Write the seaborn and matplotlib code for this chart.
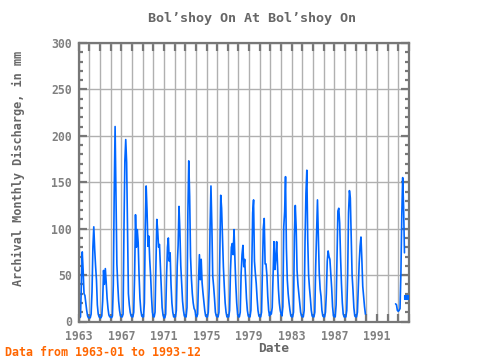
import numpy as np
import pandas as pd
import matplotlib
matplotlib.use("Agg")
import matplotlib.pyplot as plt
import seaborn as sns
from matplotlib.ticker import MultipleLocator, FixedLocator

# ---- data (monthly discharge, mm), Jan..Dec per year ----
y1963 = [4, 4, 5, 40, 75, 55, 30, 28, 20, 12, 6, 4]
y1964 = [4, 4, 8, 32, 80, 102, 78, 60, 45, 18, 8, 5]
y1965 = [4, 4, 6, 22, 55, 40, 57, 42, 25, 14, 7, 5]
y1966 = [5, 4, 6, 40, 138, 210, 138, 62, 40, 22, 12, 6]
y1967 = [5, 5, 8, 100, 173, 196, 171, 100, 30, 18, 10, 6]
y1968 = [5, 5, 10, 50, 115, 80, 99, 85, 50, 25, 12, 6]
y1969 = [5, 5, 20, 102, 146, 119, 81, 92, 67, 50, 27, 10]
y1970 = [5, 5, 10, 60, 110, 98, 80, 83, 60, 35, 15, 7]
y1971 = [4, 4, 8, 50, 80, 90, 65, 74, 40, 20, 10, 5]
y1972 = [5, 5, 12, 60, 82, 124, 97, 60, 40, 22, 12, 6]
y1973 = [5, 5, 15, 117, 173, 135, 70, 46, 30, 20, 14, 12]
y1974 = [6, 5, 8, 45, 72, 45, 67, 42, 31, 22, 12, 6]
y1975 = [5, 5, 10, 36, 101, 146, 104, 49, 38, 25, 10, 6]
y1976 = [5, 5, 10, 77, 136, 122, 92, 59, 38, 20, 10, 5]
y1977 = [5, 5, 12, 55, 80, 84, 72, 99, 67, 40, 20, 8]
y1978 = [5, 5, 10, 52, 72, 82, 59, 67, 45, 25, 12, 6]
y1979 = [5, 5, 12, 58, 117, 131, 65, 52, 41, 25, 12, 6]
y1980 = [5, 5, 10, 55, 101, 111, 62, 62, 50, 27, 12, 6]
y1981 = [10, 8, 15, 52, 86, 56, 67, 86, 59, 35, 20, 12]
y1982 = [8, 6, 16, 102, 118, 156, 79, 45, 30, 20, 12, 6]
y1983 = [5, 5, 10, 92, 125, 101, 55, 40, 30, 20, 10, 6]
y1984 = [5, 5, 12, 88, 138, 163, 90, 50, 36, 25, 12, 6]
y1985 = [5, 5, 10, 60, 97, 131, 92, 52, 35, 27, 12, 6]
y1986 = [5, 5, 10, 30, 65, 76, 70, 67, 52, 36, 16, 6]
y1987 = [5, 5, 18, 67, 119, 122, 106, 70, 41, 20, 8, 5]
y1988 = [5, 5, 12, 50, 117, 141, 133, 92, 50, 34, 15, 6]
y1989 = [5, 5, 10, 38, 63, 81, 91, 67, 38, 27, 16, 8]
y1990 = [np.nan] * 12
y1991 = [np.nan] * 12
y1992 = [np.nan] * 9 + [19, 18, 12]
y1993 = [11, 12, 14, 52, 115, 155, 124, 74, np.nan, 26, np.nan, np.nan]

years = list(range(1963, 1994))
yearly = [y1963, y1964, y1965, y1966, y1967, y1968, y1969, y1970, y1971, y1972,
          y1973, y1974, y1975, y1976, y1977, y1978, y1979, y1980, y1981, y1982,
          y1983, y1984, y1985, y1986, y1987, y1988, y1989, y1990, y1991, y1992,
          y1993]

x_ticks_major = list(range(1963, 1995))
x_tick_labels = [1963, 1967, 1971, 1975, 1979, 1983, 1987, 1991]

title = "Bol\u2019shoy On At Bol\u2019shoy On"
ylabel = "Archival Monthly Discharge, in mm"
xlabel = "Date"
note = "Data from 1963-01 to 1993-12"

# ---- build frame ----
rows = []
for yr, vals in zip(years, yearly):
    for m, v in enumerate(vals):
        rows.append((yr + m / 12.0, v))
df = pd.DataFrame(rows, columns=["t", "q"])
valid = df["q"].notna()
df["seg"] = (valid != valid.shift()).cumsum()
df = df[valid]

sns.set_theme(style="white")
mono = "DejaVu Sans Mono"
plt.rcParams["font.family"] = [mono, "DejaVu Sans"]

fig = plt.figure(figsize=(4.8, 3.6), dpi=100)
ax = fig.add_axes([78.7 / 480, 1 - 321.5 / 360, (408.9 - 78.7) / 480, (321.5 - 43) / 360])

blue = "#0066ff"
for _, g in df.groupby("seg"):
    if len(g) > 1:
        sns.lineplot(data=g, x="t", y="q", ax=ax, color=blue, lw=1.2,
                     estimator=None, legend=False)
    else:
        sns.scatterplot(data=g, x="t", y="q", ax=ax, color=blue, s=9,
                        marker="s", edgecolor=blue, linewidth=0.8,
                        legend=False, clip_on=False, zorder=5)

ax.set_xlim(1963, 1994)
ax.set_ylim(0, 300)

grey = "#777777"
ax.xaxis.set_major_locator(FixedLocator(x_ticks_major))
ax.set_xticklabels([str(t) if t in x_tick_labels else "" for t in x_ticks_major])
ax.yaxis.set_major_locator(MultipleLocator(50))
ax.yaxis.set_minor_locator(MultipleLocator(10))
ax.grid(True, which="major", color="#b0b0b0", lw=1.0)
ax.set_axisbelow(True)
ax.tick_params(axis="both", which="both", direction="in", colors=grey,
               top=True, right=True, bottom=True, left=True, width=1.6,
               labelsize=8.3, labelcolor="#808080")
ax.tick_params(axis="x", which="major", length=6, pad=6)
ax.tick_params(axis="y", which="major", length=6, pad=5)
ax.tick_params(axis="y", which="minor", length=3)
for lab in ax.get_xticklabels() + ax.get_yticklabels():
    lab.set_fontweight("bold")
for sp in ax.spines.values():
    sp.set_color(grey)
    sp.set_linewidth(1.6)
ax.set_xlabel("")
ax.set_ylabel("")

fig.text(252 / 480, 1 - 18.3 / 360, title, ha="center", va="center",
         fontsize=9.6, fontweight="bold", color="#666666")
fig.text(274 / 480, 1 - 348 / 360, xlabel, ha="center", va="center",
         fontsize=9.3, fontweight="bold", color="#666666")
fig.text(18 / 480, 1 - 168.5 / 360, ylabel, ha="center", va="center",
         rotation=90, fontsize=8.6, fontweight="bold", color="#666666")
fig.text(5 / 480, 1 - 352.3 / 360, note, ha="left", va="center",
         fontsize=8.4, fontweight="bold", color="#ff6600")

fig.savefig("out.png", dpi=100)
